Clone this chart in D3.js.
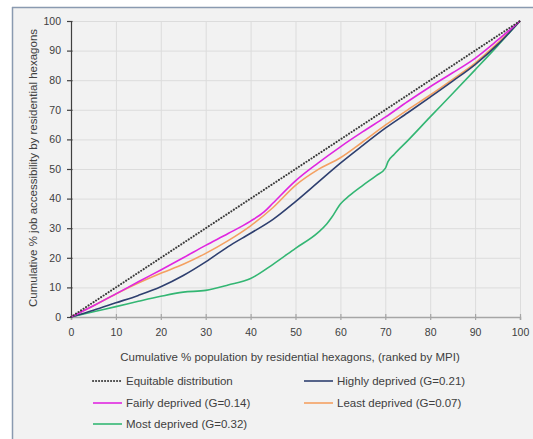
<!DOCTYPE html>
<html><head><meta charset="utf-8">
<script src="https://cdn.jsdelivr.net/npm/d3@7"></script>
<style>
html,body{margin:0;padding:0;background:#fff;}
svg{display:block;}
text{font-family:"Liberation Sans",Arial,sans-serif;fill:#404040;}
</style></head><body>
<svg id="c" width="533" height="439"></svg>
<script>
// ---- data ----
const xTicks = [0,10,20,30,40,50,60,70,80,90,100];
const yTicks = [0,10,20,30,40,50,60,70,80,90,100];
const equitable = [[0,0],[100,100]];
const highly = [[0,0],[5,2.3],[10,4.8],[15,7.3],[20,10.2],[25,14],[30,18.6],[35,23.8],[40,28.3],[45,33],[50,39],[55,45.5],[60,52],[65,58],[70,63.8],[75,69],[80,74.3],[85,79.7],[90,85.3],[95,92],[100,100]];
const fairly = [[0,0],[5,3.8],[10,7.8],[15,11.9],[20,15.9],[25,20],[30,24.2],[35,28.2],[40,32.4],[43,35.5],[45,38.5],[50,46],[55,52],[60,57.5],[65,62.6],[70,67.5],[75,72.8],[80,77.8],[85,82.5],[90,87.4],[95,93.5],[100,100]];
const least = [[0,0],[5,3.8],[10,7.8],[15,11.5],[20,14.8],[25,17.8],[30,21.5],[35,25.8],[40,30.8],[45,37],[50,44.5],[55,49.8],[60,53.8],[65,59.2],[70,64.8],[75,70],[80,75],[85,80.3],[90,85.8],[95,92.5],[100,100]];
const most = [[0,0],[5,1.8],[10,3.5],[15,5.3],[20,7],[25,8.4],[30,9],[35,10.8],[40,13],[45,17.8],[50,23.2],[55,28.5],[57,31.5],[58,33.5],[60,38.2],[62,41],[65,44.5],[68,47.8],[70,50.2],[70.6,52.5],[72,55],[75,59.6],[80,67.6],[85,75.5],[90,83.5],[95,91.6],[100,100]];
const seriesNames = ["Equitable distribution","Highly deprived (G=0.21)","Fairly deprived (G=0.14)","Least deprived (G=0.07)","Most deprived (G=0.32)"];
const xTitle = "Cumulative % population by residential hexagons, (ranked by MPI)";
const yTitle = "Cumulative % job accessibility by residential hexagons";

// ---- chart ----
const svg = d3.select("#c");
svg.append("rect").attr("x",12).attr("y",7).attr("width",521).attr("height",432).attr("fill","#f2f2f2");
svg.append("line").attr("x1",12).attr("x2",533).attr("y1",7.5).attr("y2",7.5).attr("stroke","#8a9ab0").attr("stroke-width",1.5);
svg.append("line").attr("x1",12.5).attr("x2",12.5).attr("y1",7).attr("y2",439).attr("stroke","#8a9ab0").attr("stroke-width",1.5);

const x = d3.scaleLinear().domain([0,100]).range([71,520]);
const y = d3.scaleLinear().domain([0,100]).range([317,21]);

const grid = svg.append("g");
grid.selectAll(".vg").data(xTicks.slice(1)).join("line")
  .attr("x1",d=>x(d)+0.5).attr("x2",d=>x(d)+0.5).attr("y1",y(0)).attr("y2",y(100))
  .attr("stroke","#dcdcdc").attr("stroke-width",1);
grid.selectAll(".hg").data(yTicks.slice(1)).join("line")
  .attr("x1",x(0)).attr("x2",x(100)).attr("y1",d=>y(d)+0.5).attr("y2",d=>y(d)+0.5)
  .attr("stroke","#dcdcdc").attr("stroke-width",1);

// axes
const xAxis = svg.append("g").attr("transform",`translate(0,${y(0)})`)
  .call(d3.axisBottom(x).tickValues(xTicks).tickSize(3).tickPadding(9));
xAxis.select(".domain").attr("stroke","#a6a6a6").attr("stroke-width",1.5);
xAxis.selectAll(".tick line").attr("stroke","#a6a6a6").attr("stroke-width",1.2).attr("y1",-3);
xAxis.selectAll(".tick text").attr("font-size",10.5).attr("fill","#404040").attr("font-family","Liberation Sans, Arial");

const yAxis = svg.append("g").attr("transform",`translate(${x(0)},0)`)
  .call(d3.axisLeft(y).tickValues(yTicks).tickSize(4).tickPadding(6));
yAxis.select(".domain").attr("stroke","#404040").attr("stroke-width",1.2);
yAxis.selectAll(".tick line").attr("stroke","#404040").attr("stroke-width",1.2).attr("x2",-4).attr("x1",1.5);
yAxis.selectAll(".tick text").attr("font-size",10.5).attr("fill","#404040").attr("font-family","Liberation Sans, Arial");

// lines
const line = d3.line().x(d=>x(d[0])).y(d=>y(d[1])).curve(d3.curveMonotoneX);
const colors = ["#3a3a3a","#2e3f6f","#e026e0","#f4a061","#33b673"];
const data = [equitable, highly, fairly, least, most];
const order = [4,3,1,2,0];
order.forEach(i=>{
  const p = svg.append("path").attr("d",line(data[i])).attr("fill","none")
    .attr("stroke",colors[i]).attr("stroke-width", i===0?2:1.6).attr("stroke-linejoin","round");
  if(i===0) p.attr("stroke-dasharray","0.1,2.9").attr("stroke-linecap","round");
});

// titles
svg.append("text").attr("x",290).attr("y",361).attr("text-anchor","middle").attr("font-size",11.5).text(xTitle);
svg.append("text").attr("transform",`translate(37,168) rotate(-90)`).attr("text-anchor","middle").attr("font-size",11.5).text(yTitle);

// legend
const legPos = [[93,381],[304,381],[93,403],[304,403],[93,424]];
seriesNames.forEach((n,i)=>{
  const [lx,ly] = legPos[i];
  const l = svg.append("line").attr("x1",lx).attr("x2",lx+29).attr("y1",ly).attr("y2",ly)
    .attr("stroke",colors[i]).attr("stroke-width",i===0?2:1.6);
  if(i===0) l.attr("stroke-dasharray","0.1,2.9").attr("stroke-linecap","round");
  svg.append("text").attr("x",lx+33).attr("y",ly+4).attr("font-size",11.5).text(n);
});
</script>
</body></html>
